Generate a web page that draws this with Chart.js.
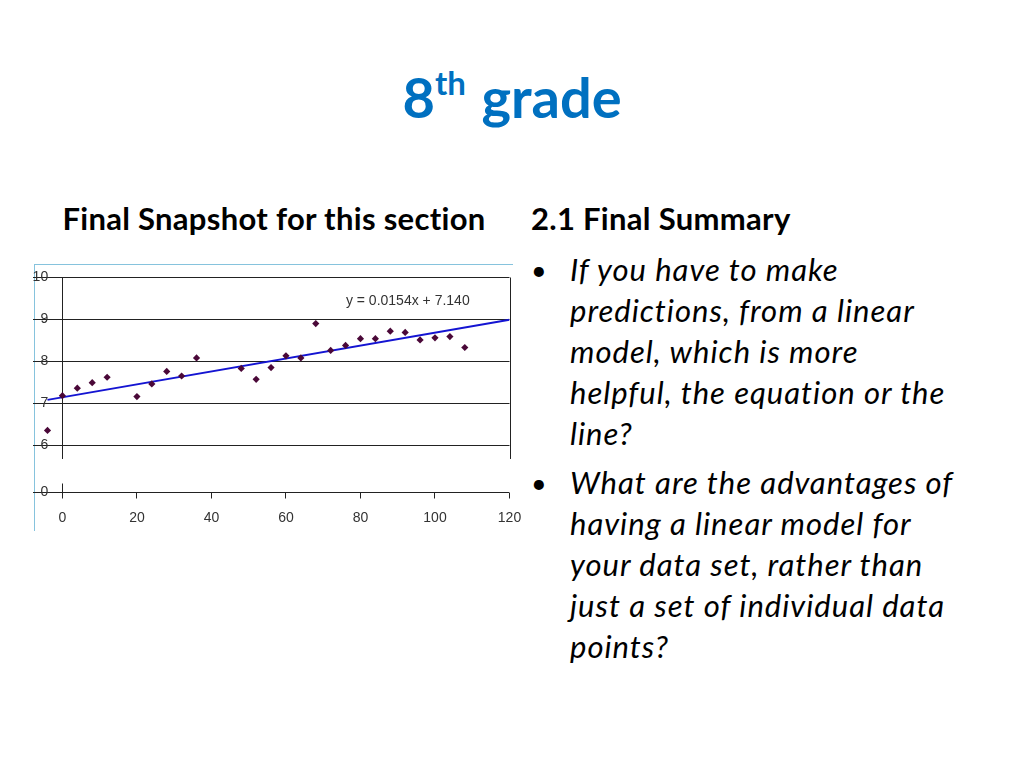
<!DOCTYPE html>
<html lang="en">
<head>
  <meta charset="utf-8">
  <title>8th grade</title>
  <style>
    html, body { margin: 0; padding: 0; background: #fff; }
    body { width: 1024px; height: 768px; position: relative; overflow: hidden; font-family: Lato, "Open Sans", sans-serif; color: #000; }
    .title { position: absolute; left: 0; width: 1024px; top: 60px; text-align: center; font-size: 56px; font-weight: bold; color: #0070c0; line-height: 74px; }
    .title sup { font-size: 33px; position: relative; top: -3px; vertical-align: super; line-height: 0; margin-right: 2px; }
    .head { position: absolute; font-size: 31px; font-weight: bold; line-height: 40px; letter-spacing: 0.3px; }
    .left-head { left: 34px; width: 480px; top: 198px; text-align: center; }
    .right-head { left: 531px; top: 198px; }
    .bullets { position: absolute; left: 531px; top: 249px; font-size: 31px; font-style: italic; line-height: 41px; letter-spacing: 1px; }
    .bullet { position: relative; padding-left: 39px; margin-bottom: 8px; }
    .bullet::before { content: "\2022"; position: absolute; left: 0; font-style: normal; font-size: 27px; }
    .frame { position: absolute; left: 34px; top: 264px; width: 478px; height: 266px; border-left: 1px solid #86c3dd; border-top: 1px solid #86c3dd; }
    /* chart.js keeps a 5px gap on the left, so the box starts 5px early */
    .chart-box { position: absolute; left: 29px; top: 264px; width: 505px; height: 268px; }
  </style>
</head>
<body>
  <div class="title">8<sup>th</sup> grade</div>
  <div class="head left-head">Final Snapshot for this section</div>
  <div class="head right-head">2.1 Final Summary</div>
  <div class="bullets">
    <div class="bullet">If you have to make<br>predictions, from a linear<br>model, which is more<br>helpful, the equation or the<br>line?</div>
    <div class="bullet">What are the advantages of<br>having a linear model for<br>your data set, rather than<br>just a set of individual data<br>points?</div>
  </div>
  <div class="frame"></div>
  <div class="chart-box"><canvas id="chart"></canvas></div>

  <script src="https://cdn.jsdelivr.net/npm/chart.js"></script>
  <script>
    // scatter points
    var pointX = [-4, 0, 4, 8, 12, 20, 24, 28, 32, 36, 48, 52, 56, 60, 64, 68, 72, 76, 80, 84, 88, 92, 96, 100, 104, 108];
    var pointY = [6.35, 7.18, 7.36, 7.49, 7.62, 7.16, 7.46, 7.76, 7.65, 8.08, 7.83, 7.57, 7.85, 8.13, 8.08, 8.90, 8.26, 8.38, 8.54, 8.54, 8.72, 8.69, 8.51, 8.56, 8.59, 8.33];

    // trend line end points
    var trendX = [-4, 120];
    var trendY = [7.08, 8.99];
    var trendLabel = 'y = 0.0154x + 7.140';

    // axes: the y axis is broken, its bottom line stands for 0
    var xTicks = [0, 20, 40, 60, 80, 100, 120];
    var yTicks = [4.87, 6, 7, 8, 9, 10];
    var yTickLabels = ['0', '6', '7', '8', '9', '10'];

    function toPoints(xs, ys) {
      return xs.map(function (x, i) { return { x: x, y: ys[i] }; });
    }

    var axisLines = {
      id: 'axisLines',
      beforeDatasetsDraw: function (chart) {
        var ctx = chart.ctx;
        var xs = chart.scales.x, ys = chart.scales.y;
        var top = ys.getPixelForValue(10);
        var low = ys.getPixelForValue(5.67);
        var bottom = ys.getPixelForValue(yTicks[0]);
        ctx.save();
        ctx.strokeStyle = '#222';
        ctx.lineWidth = 1;
        [0, 120].forEach(function (v) {
          var px = Math.round(xs.getPixelForValue(v)) + 0.5;
          ctx.beginPath();
          ctx.moveTo(px, top);
          ctx.lineTo(px, low);
          ctx.stroke();
        });
        var px0 = Math.round(xs.getPixelForValue(0)) + 0.5;
        ctx.beginPath();
        ctx.moveTo(px0, bottom - 9);
        ctx.lineTo(px0, bottom);
        ctx.stroke();

        ctx.fillStyle = '#333';
        ctx.font = '14px "Liberation Sans", Arial, sans-serif';
        ctx.textAlign = 'center';
        ctx.textBaseline = 'middle';
        ctx.fillText(trendLabel, xs.getPixelForValue(92.7), ys.getPixelForValue(9.43));
        ctx.restore();
      }
    };

    new Chart(document.getElementById('chart'), {
      type: 'scatter',
      data: {
        datasets: [
          {
            label: 'data',
            data: toPoints(pointX, pointY),
            pointStyle: 'rectRot',
            pointRadius: 3.6,
            pointHoverRadius: 3.6,
            backgroundColor: '#4a0838',
            borderColor: '#4a0838',
            borderWidth: 0,
            order: 1
          },
          {
            label: 'trend',
            data: toPoints(trendX, trendY),
            showLine: true,
            borderColor: '#1414d2',
            borderWidth: 2,
            pointRadius: 0,
            order: 2
          }
        ]
      },
      options: {
        responsive: true,
        maintainAspectRatio: false,
        animation: false,
        layout: { padding: { top: 13.5, right: 24.5, left: 0, bottom: 0 } },
        plugins: { legend: { display: false }, tooltip: { enabled: false } },
        scales: {
          x: {
            type: 'linear',
            min: -8,
            max: 120,
            afterBuildTicks: function (s) { s.ticks = xTicks.map(function (v) { return { value: v }; }); },
            afterFit: function (s) { s.height = 39.5; s.paddingLeft = 0; s.paddingRight = 0; },
            border: { display: false },
            grid: { drawOnChartArea: false, drawTicks: true, tickLength: 6, color: '#222' },
            ticks: { color: '#333', padding: 11, maxRotation: 0, font: { family: '"Liberation Sans", Arial, sans-serif', size: 14 } }
          },
          y: {
            type: 'linear',
            min: yTicks[0],
            max: 10,
            afterBuildTicks: function (s) { s.ticks = yTicks.map(function (v) { return { value: v }; }); },
            afterFit: function (s) { s.width = 0; },
            border: { display: false },
            grid: { drawTicks: false, color: '#222' },
            ticks: {
              mirror: true,
              crossAlign: 'far',
              padding: 0,
              color: '#333',
              font: { family: '"Liberation Sans", Arial, sans-serif', size: 14 },
              callback: function (value, index) { return yTickLabels[index]; }
            }
          }
        }
      },
      plugins: [axisLines]
    });
  </script>
</body>
</html>
